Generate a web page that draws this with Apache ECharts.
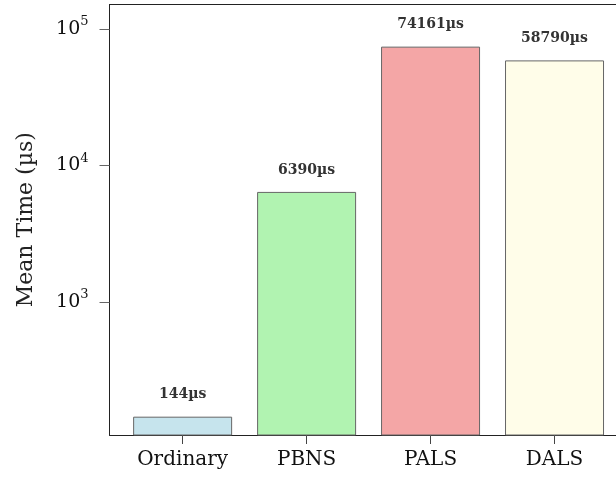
<!DOCTYPE html>
<html>
<head>
<meta charset="utf-8">
<script src="https://cdn.jsdelivr.net/npm/echarts@6/dist/echarts.min.js"></script>
<style>
  html, body { margin: 0; padding: 0; background: #fff; }
  #chart { width: 616px; height: 481px; }
</style>
</head>
<body>
<div id="chart"></div>
<script>
// Mean execution time per method (microseconds)
const categories = ['Ordinary', 'PBNS', 'PALS', 'DALS'];
const meanTimes = [144, 6390, 74161, 58790];
const barColors = ['#c6e4ed', '#b1f3b1', '#f4a6a6', '#fffde9'];
const yTickValues = [1000, 10000, 100000];

const serif = '"DejaVu Serif", "Liberation Serif", serif';

const chart = echarts.init(document.getElementById('chart'), null, { renderer: 'canvas' });

const barData = meanTimes.map((v, i) => ({
  value: [i, v],
  itemStyle: { color: barColors[i] }
}));

const catPositions = categories.map((c, i) => i);

chart.setOption({
  animation: false,
  backgroundColor: '#ffffff',
  grid: {
    left: 109.5,
    top: 4.5,
    right: 0,
    bottom: 46,
    show: false
  },
  xAxis: [{
    type: 'value',
    min: -0.59,
    max: 3.496,
    splitLine: { show: false },
    axisLine: { show: true, onZero: false, lineStyle: { color: '#222', width: 1 } },
    axisTick: {
      show: true,
      length: 9,
      customValues: catPositions,
      lineStyle: { color: '#444' }
    },
    axisLabel: {
      customValues: catPositions,
      formatter: v => categories[Math.round(v)] || '',
      fontFamily: serif,
      fontSize: 20,
      color: '#111',
      margin: 15
    }
  }, {
    // top frame line
    type: 'value',
    position: 'top',
    min: -0.59,
    max: 3.496,
    splitLine: { show: false },
    axisLine: { show: true, onZero: false, lineStyle: { color: '#222', width: 1 } },
    axisTick: { show: false },
    axisLabel: { show: false }
  }],
  yAxis: {
    type: 'log',
    logBase: 10,
    min: 105.7,
    max: 151000,
    name: 'Mean Time (µs)',
    nameLocation: 'middle',
    nameGap: 72,
    nameTextStyle: { fontFamily: serif, fontSize: 22, color: '#222' },
    splitLine: { show: false },
    axisLine: { show: true, onZero: false, lineStyle: { color: '#222', width: 1 } },
    axisTick: {
      show: true,
      length: 10,
      customValues: yTickValues,
      lineStyle: { color: '#666' }
    },
    axisLabel: {
      customValues: yTickValues,
      margin: 21,
      formatter: v => '{b|10}{s|' + Math.round(Math.log10(v)) + '}',
      rich: {
        b: { fontFamily: serif, fontSize: 19, color: '#111' },
        s: { fontFamily: serif, fontSize: 13, color: '#111', padding: [0, 0, 14, 0] }
      }
    }
  },
  series: [{
    type: 'bar',
    data: barData,
    barWidth: 99,
    clip: true,
    itemStyle: { borderColor: '#666', borderWidth: 1 },
    label: {
      show: true,
      position: 'top',
      distance: 15,
      formatter: p => p.value[1] + 'µs',
      fontFamily: serif,
      fontWeight: 'bold',
      fontSize: 14,
      color: '#333'
    }
  }]
});
</script>
</body>
</html>
